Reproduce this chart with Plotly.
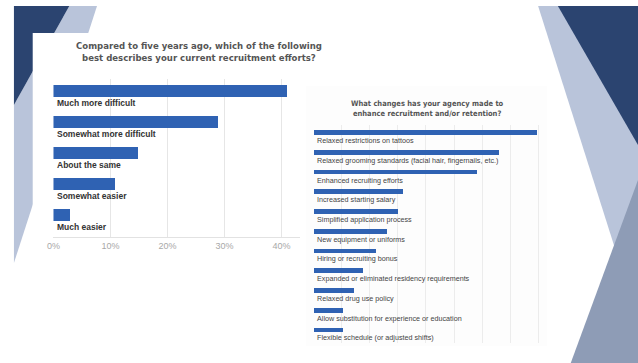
import plotly.graph_objects as go

W, H = 638, 363

left_categories = ["Much more difficult", "Somewhat more difficult", "About the same",
                   "Somewhat easier", "Much easier"]
left_values = [41.1, 28.9, 14.9, 10.9, 2.9]
left_tickvals = [0, 10, 20, 30, 40]
left_ticktext = ["0%", "10%", "20%", "30%", "40%"]
left_title = "Compared to five years ago, which of the following<br>best describes your current recruitment efforts?"

right_categories = [
    "Relaxed restrictions on tattoos",
    "Relaxed grooming standards (facial hair, fingernails, etc.)",
    "Enhanced recruiting efforts",
    "Increased starting salary",
    "Simplified application process",
    "New equipment or uniforms",
    "Hiring or recruiting bonus",
    "Expanded or eliminated residency requirements",
    "Relaxed drug use policy",
    "Allow substitution for experience or education",
    "Flexible schedule (or adjusted shifts)",
]
right_values = [79.2, 65.7, 58.1, 31.7, 29.9, 25.8, 21.9, 17.3, 14.1, 10.2, 10.2]
right_tickvals = [0, 10, 20, 30, 40, 50, 60, 70, 80]
right_title = "What changes has your agency made to<br>enhance recruitment and/or retention?"

BLUE = "#2f62b3"
NAVY = "#2b4470"
LIGHT = "#b9c4da"
MED = "#8e9cb6"
TITLE_FONT = "Liberation Sans Narrow, DejaVu Sans Condensed, Arial Narrow, sans-serif"


def px(x):
    return x / W


def py(y):
    return 1 - y / H


def poly(points, color):
    path = "M " + " L ".join(f"{px(x):.5f},{py(y):.5f}" for x, y in points) + " Z"
    return dict(type="path", xref="paper", yref="paper", path=path,
                fillcolor=color, line=dict(width=0), layer="below")


fig = go.Figure()

fig.add_trace(go.Bar(x=left_values, y=left_categories, orientation="h",
                     marker=dict(color=BLUE, line=dict(width=0)), width=0.39,
                     xaxis="x", yaxis="y", showlegend=False, hoverinfo="skip"))
fig.add_trace(go.Bar(x=right_values, y=right_categories, orientation="h",
                     marker=dict(color=BLUE, line=dict(width=0)), width=0.24,
                     xaxis="x2", yaxis="y2", showlegend=False, hoverinfo="skip"))

shapes = [
    # left decoration
    poly([(63, 6), (91, 6), (7, 263), (7, 105)], LIGHT),
    poly([(7, 6), (63, 6), (7, 105)], NAVY),
    # right decoration
    poly([(537, 6), (638, 6), (638, 321)], LIGHT),
    poly([(638, 180), (638, 363), (570, 363)], MED),
    poly([(557, 6), (638, 6), (638, 145)], NAVY),
    # white panel of the left chart
    dict(type="rect", xref="paper", yref="paper", x0=px(26), x1=px(300),
         y0=py(300), y1=py(33), fillcolor="white", line=dict(width=0), layer="below"),
    # faint panel of the right chart
    dict(type="rect", xref="paper", yref="paper", x0=px(302), x1=px(546),
         y0=py(346), y1=py(86), fillcolor="#fdfdfd", line=dict(width=0), layer="below"),
]

annotations = [
    dict(text=left_title, xref="paper", yref="paper", x=px(194), y=py(51.5),
         xanchor="center", yanchor="middle", showarrow=False,
         font=dict(family=TITLE_FONT, size=9.5, color="#555555", weight="bold")),
    dict(text=right_title, xref="paper", yref="paper", x=px(425), y=py(108.5),
         xanchor="center", yanchor="middle", showarrow=False,
         font=dict(family=TITLE_FONT, size=7.5, color="#555555", weight="bold")),
]
for c in left_categories:
    annotations.append(dict(text=c, xref="x", yref="y", x=0, y=c, xanchor="left",
                            yanchor="middle", xshift=2, yshift=-12, showarrow=False,
                            font=dict(family="Liberation Sans, Arial, sans-serif",
                                      size=8.5, color="#333333", weight="bold")))
for c in right_categories:
    annotations.append(dict(text=c, xref="x2", yref="y2", x=0, y=c, xanchor="left",
                            yanchor="middle", xshift=1, yshift=-8, showarrow=False,
                            font=dict(family="Liberation Sans, Arial, sans-serif",
                                      size=7.2, color="#444444")))

fig.update_layout(
    width=W, height=H, margin=dict(l=0, r=0, t=0, b=0),
    paper_bgcolor="white", plot_bgcolor="rgba(0,0,0,0)",
    shapes=shapes, annotations=annotations, bargap=0,
    xaxis=dict(domain=[px(47), px(296)], range=[0, 43.2], tickvals=left_tickvals,
               ticktext=left_ticktext, showgrid=True, gridcolor="#e6e6e6",
               zeroline=False, showline=True, linecolor="#e2e2e2", ticks="",
               tickfont=dict(family="Liberation Sans, Arial, sans-serif", size=9,
                             color="#a8a8a8"), anchor="y", fixedrange=True),
    yaxis=dict(domain=[py(237), py(79)], type="category",
               categoryorder="array", categoryarray=left_categories,
               range=[4.71, -0.39], showticklabels=False, showgrid=False,
               zeroline=False, anchor="x", fixedrange=True),
    xaxis2=dict(domain=[px(310), px(539)], range=[0, 80.6], tickvals=right_tickvals,
                showticklabels=False, showgrid=True, gridcolor="#ececec",
                zeroline=False, showline=False, ticks="", anchor="y2", fixedrange=True),
    yaxis2=dict(domain=[py(343), py(125)], type="category",
                categoryorder="array", categoryarray=right_categories,
                range=[10.66, -0.38], showticklabels=False, showgrid=False,
                zeroline=False, anchor="x2", fixedrange=True),
)

fig.write_html("out.html")
